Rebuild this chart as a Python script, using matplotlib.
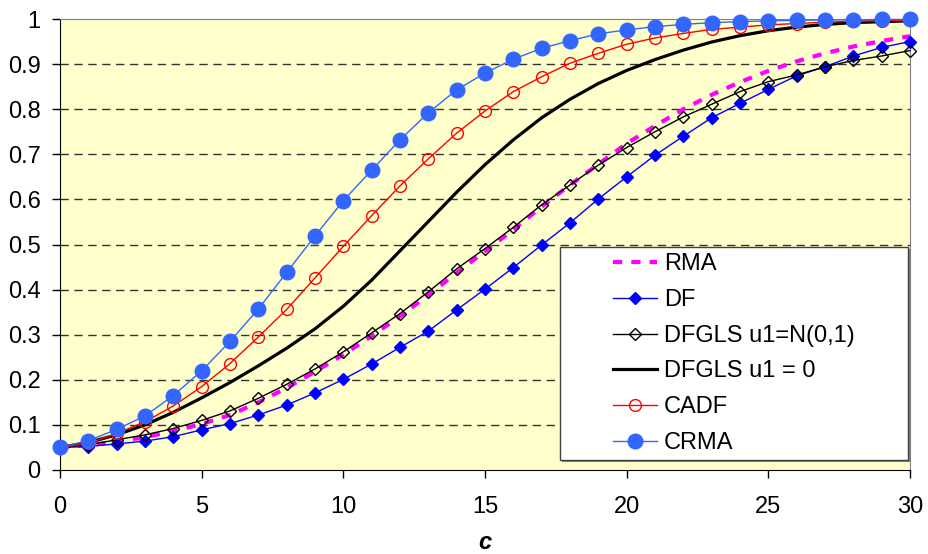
import numpy as np
import matplotlib
matplotlib.use('Agg')
import matplotlib.pyplot as plt
from matplotlib.patches import Rectangle

# data (rejection frequency vs c)
c = list(range(31))

rma = [0.050, 0.055, 0.063, 0.073, 0.086, 0.102, 0.122, 0.150, 0.182, 0.218,
       0.256, 0.297, 0.341, 0.388, 0.437, 0.485, 0.533, 0.584, 0.632, 0.678,
       0.724, 0.763, 0.800, 0.832, 0.860, 0.885, 0.906, 0.924, 0.939, 0.951, 0.962]

df = [0.050, 0.052, 0.058, 0.064, 0.074, 0.089, 0.103, 0.122, 0.144, 0.171,
      0.201, 0.235, 0.272, 0.308, 0.355, 0.401, 0.449, 0.499, 0.548, 0.601,
      0.650, 0.698, 0.740, 0.781, 0.813, 0.844, 0.874, 0.894, 0.918, 0.937, 0.950]

dfgls_n01 = [0.050, 0.056, 0.067, 0.078, 0.092, 0.110, 0.131, 0.159, 0.190, 0.224,
             0.262, 0.304, 0.347, 0.395, 0.446, 0.491, 0.538, 0.588, 0.632, 0.676,
             0.715, 0.750, 0.783, 0.811, 0.839, 0.861, 0.876, 0.894, 0.908, 0.918, 0.930]

dfgls_0 = [0.050, 0.061, 0.078, 0.100, 0.128, 0.160, 0.194, 0.231, 0.270, 0.313,
           0.363, 0.421, 0.486, 0.551, 0.616, 0.677, 0.732, 0.781, 0.822, 0.857,
           0.886, 0.910, 0.931, 0.949, 0.963, 0.974, 0.982, 0.988, 0.992, 0.994, 0.996]

cadf = [0.050, 0.059, 0.081, 0.107, 0.142, 0.185, 0.236, 0.295, 0.356, 0.426,
        0.496, 0.564, 0.630, 0.690, 0.747, 0.796, 0.839, 0.872, 0.902, 0.924,
        0.944, 0.958, 0.968, 0.977, 0.982, 0.987, 0.990, 0.993, 0.995, 0.996, 0.997]

crma = [0.050, 0.065, 0.090, 0.120, 0.165, 0.220, 0.285, 0.357, 0.438, 0.519,
        0.597, 0.665, 0.732, 0.792, 0.843, 0.880, 0.911, 0.935, 0.952, 0.967,
        0.976, 0.983, 0.988, 0.992, 0.994, 0.996, 0.997, 0.998, 0.998, 0.999, 0.999]

xticks = [0, 5, 10, 15, 20, 25, 30]
yticks = [0, 0.1, 0.2, 0.3, 0.4, 0.5, 0.6, 0.7, 0.8, 0.9, 1]
yticklabels = ['0', '0.1', '0.2', '0.3', '0.4', '0.5', '0.6', '0.7', '0.8', '0.9', '1']

plt.rcParams.update({'font.size': 17, 'font.family': ['Liberation Sans', 'DejaVu Sans']})

fig = plt.figure(figsize=(9.29, 5.54), dpi=100)
ax = fig.add_axes([60 / 929, 84 / 554, 850 / 929, 451 / 554])
ax.set_facecolor('#FFFFCC')

ax.plot(c, rma, color='#FF00FF', lw=3, dashes=(2.2, 2.2), label='RMA', zorder=3)
ax.plot(c, df, color='#0000FF', lw=1, marker='D', ms=6, mfc='#0000FF', mec='#0000FF',
        label='DF', zorder=4, clip_on=False)
ax.plot(c, dfgls_n01, color='black', lw=1, marker='D', ms=6.5, mfc='none', mec='black',
        mew=1, label='DFGLS u1=N(0,1)', zorder=5, clip_on=False)
ax.plot(c, dfgls_0, color='black', lw=2.3, label='DFGLS u1 = 0', zorder=4)
ax.plot(c, cadf, color='#FF0000', lw=1, marker='o', ms=8.5, mfc='none', mec='#FF0000',
        mew=1, label='CADF', zorder=6, clip_on=False)
ax.plot(c, crma, color='#3366FF', lw=1, marker='o', ms=10.5, mfc='#3366FF', mec='#3366FF',
        label='CRMA', zorder=7, clip_on=False)

ax.set_xlim(0, 30)
ax.set_ylim(0, 1)
ax.set_xticks(xticks)
ax.set_yticks(yticks)
ax.set_yticklabels(yticklabels)
ax.tick_params(axis='x', direction='out', length=6, width=1, pad=13)
ax.tick_params(axis='y', direction='out', length=6, width=1, pad=8)

for y in yticks[1:-1]:
    ax.axhline(y, color='#333333', lw=1, dashes=(6, 4), zorder=1)

ax.spines['top'].set_color('#808080')
ax.spines['right'].set_color('#808080')
ax.spines['left'].set_color('black')
ax.spines['bottom'].set_color('black')

ax.set_xlabel('c', fontweight='bold', fontstyle='italic', labelpad=9)

# legend box, content centred in it like the spreadsheet legend
box = (0.588, 0.022, 0.41, 0.472)
ax.add_patch(Rectangle((box[0] + 0.003, box[1] - 0.005), box[2], box[3], transform=ax.transAxes,
                       facecolor='#808080', edgecolor='none', zorder=9))
ax.add_patch(Rectangle(box[:2], box[2], box[3], transform=ax.transAxes,
                       facecolor='white', edgecolor='#404040', lw=1, zorder=10))
leg = ax.legend(loc='center', bbox_to_anchor=box, bbox_transform=ax.transAxes,
                frameon=False, handlelength=1.85, handletextpad=0.3, labelspacing=0.58,
                borderaxespad=0)
leg.set_zorder(11)

plt.savefig('out.png', dpi=100)
